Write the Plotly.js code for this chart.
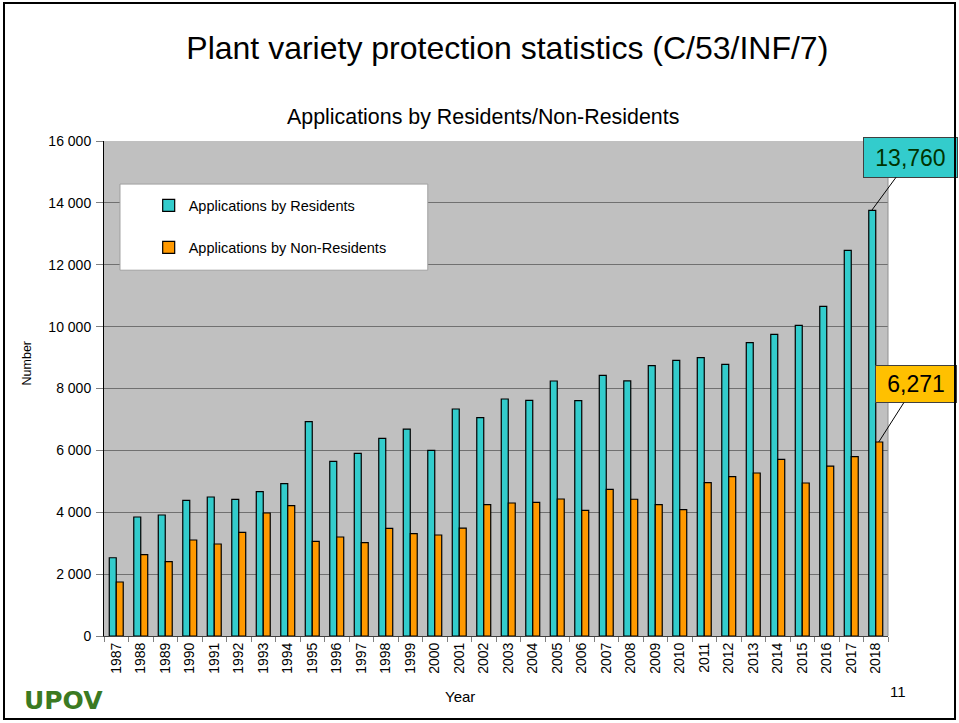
<!DOCTYPE html>
<html>
<head>
<meta charset="utf-8">
<script src="https://cdn.plot.ly/plotly-3.0.1.min.js"></script>
<style>
  html, body { margin: 0; padding: 0; background: #ffffff; }
  #chart { position: absolute; left: 0; top: 0; width: 959px; height: 723px; }
  #frame { position: absolute; left: 3px; top: 2px; width: 953px; height: 718px;
           border: 2.5px solid #000; box-sizing: border-box; pointer-events: none; }
</style>
</head>
<body>
<div id="chart"></div>
<div id="frame"></div>
<script>
// ---- data ----
const years = ["1987","1988","1989","1990","1991","1992","1993","1994","1995","1996",
               "1997","1998","1999","2000","2001","2002","2003","2004","2005","2006",
               "2007","2008","2009","2010","2011","2012","2013","2014","2015","2016",
               "2017","2018"];
const residents = [2530, 3846, 3911, 4386, 4493, 4418, 4665, 4923, 6927, 5645,
                   5904, 6390, 6690, 6002, 7337, 7056, 7660, 7617, 8242, 7606,
                   8425, 8245, 8737, 8909, 8995, 8780, 9480, 9750, 10040, 10654,
                   12464, 13760];
const nonResidents = [1745, 2628, 2402, 3103, 2973, 3351, 3975, 4212, 3060, 3200,
                      3017, 3480, 3307, 3264, 3490, 4244, 4299, 4320, 4428, 4062,
                      4740, 4420, 4245, 4083, 4956, 5149, 5268, 5710, 4945, 5494,
                      5796, 6271];
const seriesNames = ["Applications by Residents", "Applications by Non-Residents"];
const yTicks = [0, 2000, 4000, 6000, 8000, 10000, 12000, 14000, 16000];
const lastIdx = years.length - 1;
const lastRes = residents[lastIdx];
const lastNonRes = nonResidents[lastIdx];

const FONT = '"Liberation Sans", Arial, Helvetica, sans-serif';

const traces = [
  { type: 'bar', name: seriesNames[0], x: years, y: residents, legendgroup: 'a',
    marker: { color: '#33CCCC', line: { color: '#000000', width: 1.2 } }, hoverinfo: 'x+y' },
  { type: 'bar', name: seriesNames[1], x: years, y: nonResidents, legendgroup: 'b',
    marker: { color: '#FF9900', line: { color: '#000000', width: 1.2 } }, hoverinfo: 'x+y' }
];

const fmt = v => v.toLocaleString('en-US');

const layout = {
  width: 959, height: 723,
  margin: { l: 104, r: 71, t: 141, b: 87 },
  paper_bgcolor: '#ffffff',
  plot_bgcolor: '#C0C0C0',
  font: { family: FONT, color: '#000000', size: 14 },
  separators: '. ',
  barmode: 'group',
  bargap: 0.43,
  bargroupgap: 0,
  title: { text: 'Plant variety protection statistics (C/53/INF/7)',
           font: { family: FONT, size: 32, color: '#000000' },
           xref: 'container', x: 0.529, xanchor: 'center',
           yref: 'container', y: 0.934, yanchor: 'middle' },
  xaxis: {
    type: 'category', range: [-0.5, lastIdx + 0.5], autorange: false,
    tickson: 'boundaries', ticks: 'outside', ticklen: 5,
    tickcolor: '#808080', tickangle: -90, tickfont: { size: 14 },
    showline: true, linecolor: '#404040', linewidth: 1, showgrid: false
  },
  yaxis: {
    range: [0, 16000], autorange: false, tickvals: yTicks, tickformat: ',d',
    ticks: 'outside', ticklen: 7, tickcolor: '#808080', tickfont: { size: 14 },
    ticklabelstandoff: 2,
    showline: true, linecolor: '#000000', linewidth: 1,
    showgrid: true, gridcolor: '#707070', gridwidth: 1, zeroline: false
  },
  showlegend: true,
  legend: {
    x: 0.057, xanchor: 'left', y: 0.902, yanchor: 'top',
    bgcolor: 'rgba(0,0,0,0)', borderwidth: 0,
    traceorder: 'grouped', tracegroupgap: 20,
    font: { size: 14.5 }
  },
  shapes: [
    { type: 'rect', xref: 'paper', yref: 'paper', x0: 0.0204, x1: 0.413, y0: 0.739, y1: 0.913,
      fillcolor: '#ffffff', line: { color: '#a0a0a0', width: 1 }, layer: 'above' },
    { type: 'line', xref: 'paper', yref: 'paper', x0: 1, x1: 1, y0: 0, y1: 1,
      line: { color: '#909090', width: 1 }, layer: 'above' }
  ],
  annotations: [
    { text: 'Applications by Residents/Non-Residents', xref: 'paper', yref: 'paper',
      x: 0.4834, y: 1.0485, xanchor: 'center', yanchor: 'middle', showarrow: false,
      font: { size: 21.4, color: '#000000' } },
    { text: 'Number', xref: 'paper', yref: 'paper', x: -0.098, y: 0.551, textangle: -90,
      xanchor: 'center', yanchor: 'middle', showarrow: false, font: { size: 12.5 } },
    { text: 'Year', xref: 'paper', yref: 'paper', x: 0.454, y: -0.123,
      xanchor: 'center', yanchor: 'middle', showarrow: false, font: { size: 15 } },
    { text: '11', xref: 'paper', yref: 'paper', x: 1.0128, y: -0.113,
      xanchor: 'center', yanchor: 'middle', showarrow: false, font: { size: 15 } },
    { text: '<b>UPOV</b>', xref: 'paper', yref: 'paper', x: -0.1046, y: -0.131,
      xanchor: 'left', yanchor: 'middle', showarrow: false,
      font: { size: 25, color: '#3b7a22', family: '"DejaVu Sans", "Liberation Sans", sans-serif' } },
    { text: fmt(lastRes), x: lastIdx, y: lastRes, xref: 'x', yref: 'y', xshift: -4,
      showarrow: true, arrowhead: 0, arrowwidth: 1, arrowcolor: '#000000',
      ax: 39, ay: -53, axref: 'pixel', ayref: 'pixel',
      bgcolor: '#33CCCC', bordercolor: '#404040', borderwidth: 1, borderpad: 2,
      width: 89, height: 35, align: 'center', valign: 'middle',
      font: { size: 23, color: '#003300' } },
    { text: fmt(lastNonRes), x: lastIdx, y: lastNonRes, xref: 'x', yref: 'y', xshift: 3,
      showarrow: true, arrowhead: 0, arrowwidth: 1, arrowcolor: '#000000',
      ax: 37, ay: -58, axref: 'pixel', ayref: 'pixel',
      bgcolor: '#FFC000', bordercolor: '#404040', borderwidth: 1, borderpad: 2,
      width: 76, height: 32, align: 'center', valign: 'middle',
      font: { size: 23, color: '#000000' } }
  ]
};

Plotly.newPlot('chart', traces, layout, { displayModeBar: false, staticPlot: true });
</script>
</body>
</html>
